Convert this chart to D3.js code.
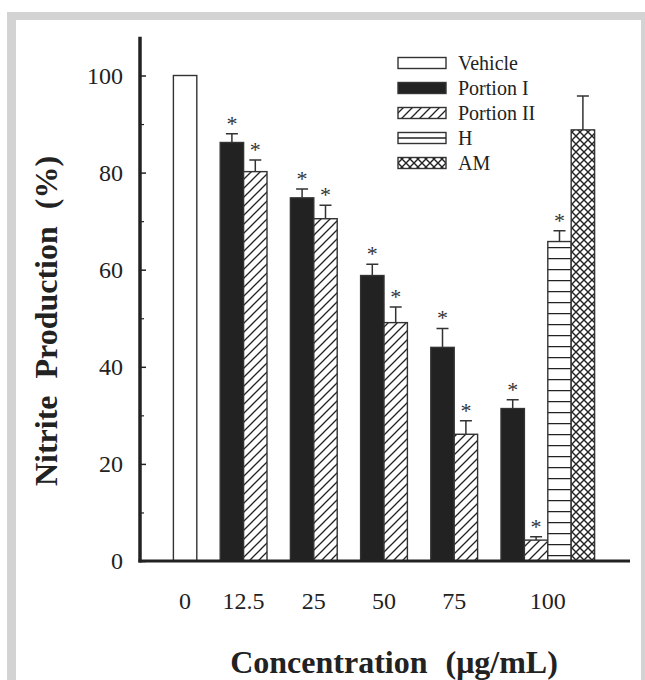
<!DOCTYPE html>
<html>
<head>
<meta charset="utf-8">
<script src="https://cdn.jsdelivr.net/npm/d3@7"></script>
<style>
    body { margin: 0; background: #fff; }
    svg { display: block; font-family: "Liberation Serif", "Times New Roman", serif; }
</style>
</head>
<body>
<div id="chart"></div>
<script>
const categories = ["0", "12.5", "25", "50", "75", "100"];

// series values in %, null where a bar is absent
const vehicle = [100, null, null, null, null, null];
const portionI = [null, 86.2, 74.8, 58.8, 44.0, 31.4];
const portionIErr = [null, 1.8, 1.8, 2.3, 3.9, 1.8];
const portionII = [null, 80.2, 70.5, 49.1, 26.1, 4.3];
const portionIIErr = [null, 2.4, 2.8, 3.2, 2.8, 0.7];
const hValues = [null, null, null, null, null, 65.8];
const hErr = [null, null, null, null, null, 2.2];
const amValues = [null, null, null, null, null, 88.8];
const amErr = [null, null, null, null, null, 7.0];

const yTicks = [0, 20, 40, 60, 80, 100];
const yMinorTicks = [10, 30, 50, 70, 90];

const width = 645;
const height = 680;

const svg = d3.select("#chart")
    .append("svg")
    .attr("width", width)
    .attr("height", height);

// gray frame round the figure
svg.append("rect").attr("x", 7).attr("y", 12).attr("width", 645).attr("height", 700).attr("fill", "#d3d3d3");
svg.append("rect").attr("x", 16).attr("y", 20).attr("width", 625).attr("height", 700).attr("fill", "#fff");

const defs = svg.append("defs");
const ink = "#222";

const hatch = defs.append("pattern")
    .attr("id", "hatch")
    .attr("patternUnits", "userSpaceOnUse")
    .attr("width", 9).attr("height", 9);
hatch.append("rect").attr("width", 9).attr("height", 9).attr("fill", "#fff");
hatch.append("path")
    .attr("d", "M0,9 L9,0 M-2,2 L2,-2 M7,11 L11,7")
    .attr("stroke", ink).attr("stroke-width", 1.3);

const horiz = defs.append("pattern")
    .attr("id", "horiz")
    .attr("patternUnits", "userSpaceOnUse")
    .attr("y", 5)
    .attr("width", 10).attr("height", 11);
horiz.append("rect").attr("width", 10).attr("height", 11).attr("fill", "#fff");
horiz.append("path").attr("d", "M0,0.5 L10,0.5").attr("stroke", ink).attr("stroke-width", 1.5);

const cross = defs.append("pattern")
    .attr("id", "cross")
    .attr("patternUnits", "userSpaceOnUse")
    .attr("width", 8).attr("height", 8);
cross.append("rect").attr("width", 8).attr("height", 8).attr("fill", "#fff");
cross.append("path")
    .attr("d", "M0,0 L8,8 M8,0 L0,8")
    .attr("stroke", ink).attr("stroke-width", 1.4);

const series = [
    { name: "Vehicle", values: vehicle, err: null, sig: false, slot: 1, fill: "#fff" },
    { name: "Portion I", values: portionI, err: portionIErr, sig: true, slot: 0, fill: ink },
    { name: "Portion II", values: portionII, err: portionIIErr, sig: true, slot: 1, fill: "url(#hatch)" },
    { name: "H", values: hValues, err: hErr, sig: true, slot: 2, fill: "url(#horiz)" },
    { name: "AM", values: amValues, err: amErr, sig: false, slot: 3, fill: "url(#cross)" }
];

const x = d3.scaleBand()
    .domain(categories)
    .range([150, 571.2])
    .padding(0);
const bw = x.step() / 3;

const y = d3.scaleLinear()
    .domain([0, 100])
    .range([561, 75.5]);

const bars = [];
series.forEach(s => {
    s.values.forEach((v, i) => {
        if (v == null) return;
        bars.push({
            series: s,
            cat: categories[i],
            value: v,
            err: s.err ? s.err[i] : null,
            x0: x(categories[i]) + s.slot * bw
        });
    });
});

const g = svg.append("g");

g.selectAll(".bar")
    .data(bars)
    .enter()
    .append("rect")
    .attr("x", d => d.x0)
    .attr("y", d => y(d.value))
    .attr("width", bw)
    .attr("height", d => y(0) - y(d.value))
    .attr("fill", d => d.series.fill)
    .attr("stroke", "#333")
    .attr("stroke-width", 1.4);

// error bars, upper half only
const withErr = bars.filter(d => d.err);
g.selectAll(".err")
    .data(withErr)
    .enter()
    .append("path")
    .attr("d", d => {
        const cx = d.x0 + bw / 2;
        const top = y(d.value + d.err);
        return `M${cx},${y(d.value)} L${cx},${top} M${cx - 6},${top} L${cx + 6},${top}`;
    })
    .attr("fill", "none")
    .attr("stroke", "#333")
    .attr("stroke-width", 1.5);

g.selectAll(".star")
    .data(bars.filter(d => d.series.sig))
    .enter()
    .append("text")
    .attr("x", d => d.x0 + bw / 2)
    .attr("y", d => y(d.value + d.err) - 3)
    .attr("text-anchor", "middle")
    .attr("font-size", 22)
    .attr("fill", "#333")
    .text("*");

// axes
const yAxis = d3.axisLeft(y)
    .tickValues(yTicks)
    .tickSize(-6)
    .tickPadding(17)
    .tickFormat(d3.format("d"));

const yAxisG = svg.append("g")
    .attr("transform", "translate(140,0)")
    .call(yAxis);
yAxisG.select(".domain").remove();
yAxisG.selectAll(".tick line").attr("stroke", ink).attr("stroke-width", 1.5);
yAxisG.selectAll("text")
    .attr("font-family", "Liberation Serif, serif")
    .attr("font-size", 24)
    .attr("fill", ink);

const yMinor = svg.append("g")
    .attr("transform", "translate(140,0)")
    .call(d3.axisLeft(y).tickValues(yMinorTicks).tickSize(-4).tickFormat(""));
yMinor.select(".domain").remove();
yMinor.selectAll(".tick line").attr("stroke", ink).attr("stroke-width", 1.2);

svg.append("line")
    .attr("x1", 140).attr("x2", 140)
    .attr("y1", y(108)).attr("y2", y(0) + 1.5)
    .attr("stroke", ink).attr("stroke-width", 3.5);

svg.append("line")
    .attr("x1", 138.5).attr("x2", 630)
    .attr("y1", y(0)).attr("y2", y(0))
    .attr("stroke", ink).attr("stroke-width", 3);

// category labels centred under the bars of each group
const labelPos = categories.map(c => {
    const b = bars.filter(d => d.cat === c);
    const lo = d3.min(b, d => d.x0);
    const hi = d3.max(b, d => d.x0 + bw);
    return { cat: c, cx: (lo + hi) / 2 };
});

svg.selectAll(".xlab")
    .data(labelPos)
    .enter()
    .append("text")
    .attr("x", d => d.cx)
    .attr("y", 609)
    .attr("text-anchor", "middle")
    .attr("font-size", 24)
    .attr("fill", ink)
    .text(d => d.cat);

svg.append("text")
    .attr("x", 394)
    .attr("y", 673)
    .attr("text-anchor", "middle")
    .attr("font-size", 32)
    .attr("font-weight", "bold")
    .attr("fill", ink)
    .attr("word-spacing", 10)
    .text("Concentration (\u03bcg/mL)");

svg.append("text")
    .attr("transform", "translate(57,321) rotate(-90)")
    .attr("text-anchor", "middle")
    .attr("font-size", 32)
    .attr("font-weight", "bold")
    .attr("fill", ink)
    .attr("word-spacing", 9)
    .text("Nitrite Production (%)");

// legend
const legend = svg.append("g").attr("transform", "translate(398,63)");
const rows = legend.selectAll(".row")
    .data(series)
    .enter()
    .append("g")
    .attr("transform", (d, i) => `translate(0,${i * 25})`);

rows.append("rect")
    .attr("x", 0).attr("y", -5.5)
    .attr("width", 48).attr("height", 11)
    .attr("fill", d => d.name === "H" ? "#fff" : d.fill)
    .attr("stroke", "#333")
    .attr("stroke-width", 1.4);

rows.filter(d => d.name === "H")
    .append("line")
    .attr("x1", 0).attr("x2", 48)
    .attr("y1", 0).attr("y2", 0)
    .attr("stroke", ink).attr("stroke-width", 1.5);

rows.append("text")
    .attr("x", 60)
    .attr("y", 7)
    .attr("font-size", 20)
    .attr("fill", ink)
    .text(d => d.name);
</script>
</body>
</html>
